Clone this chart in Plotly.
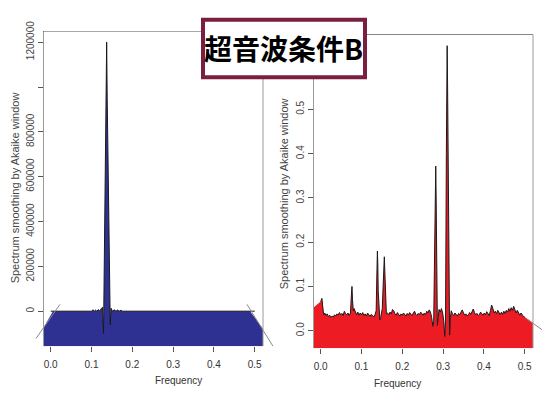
import plotly.graph_objects as go

W, H = 547, 395

# ---------------- data ----------------
# Condition B, left: smoothed spectrum (power), frequency 0 .. 0.5
left_freq = [0.000, 0.100, 0.104, 0.107, 0.110, 0.113, 0.117, 0.120, 0.124, 0.127,
             0.1295, 0.1315, 0.1335, 0.1355, 0.1372, 0.1385, 0.1405, 0.1425, 0.1445,
             0.146, 0.148, 0.151, 0.156, 0.160, 0.164, 0.168, 0.172, 0.176, 0.500]
left_power = [0, 0, 6000, 0, 5000, 0, 7000, 0, 12000, 17000,
              -100000, 250000, 650000, 1000000, 1200000, 950000, 600000, 250000, 50000,
              -61000, 13000, 0, 6000, 0, 5000, 0, 4000, 0, 0]
# tapered ends of the filled area
left_taper_freq = [-0.0189, 0.0056, 0.4885, 0.5204]
left_taper_power = [-78000, 0, 0, -78000]
# thin guide strokes along the tapers
left_guide_a = ([-0.036, 0.0228], [-121700, 30400])
left_guide_b = ([0.4811, 0.5449], [30400, -156500])

# Condition B, right: smoothed spectrum, frequency 0 .. 0.5
right_freq = [0.000, 0.003, 0.006, 0.008, 0.010, 0.013, 0.016, 0.019, 0.022, 0.025,
              0.028, 0.031, 0.034, 0.037, 0.040, 0.043, 0.046, 0.049, 0.052, 0.055,
              0.058, 0.061, 0.064, 0.067, 0.070, 0.073, 0.0755, 0.0767, 0.078, 0.080,
              0.082, 0.085, 0.088, 0.091, 0.094, 0.097, 0.100, 0.103, 0.106, 0.109,
              0.112, 0.115, 0.118, 0.121, 0.124, 0.127, 0.130, 0.133, 0.136, 0.138,
              0.139, 0.140, 0.141, 0.143, 0.145, 0.147, 0.149, 0.151, 0.153, 0.155,
              0.156, 0.157, 0.159, 0.161, 0.164, 0.167, 0.170, 0.173, 0.176, 0.179,
              0.182, 0.185, 0.188, 0.191, 0.194, 0.197, 0.200, 0.203, 0.206, 0.209,
              0.212, 0.215, 0.218, 0.221, 0.224, 0.227, 0.230, 0.233, 0.236, 0.239,
              0.242, 0.245, 0.248, 0.251, 0.254, 0.257, 0.260, 0.263, 0.266, 0.269,
              0.272, 0.275, 0.277, 0.279, 0.2805, 0.282, 0.283, 0.284, 0.286, 0.288,
              0.290, 0.293, 0.296, 0.299, 0.302, 0.304, 0.306, 0.308, 0.3095, 0.310,
              0.311, 0.3125, 0.314, 0.316, 0.318, 0.320, 0.323, 0.326, 0.329, 0.332,
              0.335, 0.338, 0.341, 0.344, 0.347, 0.350, 0.353, 0.356, 0.359, 0.362,
              0.365, 0.368, 0.371, 0.374, 0.377, 0.380, 0.383, 0.386, 0.389, 0.392,
              0.395, 0.398, 0.401, 0.404, 0.407, 0.410, 0.413, 0.416, 0.419, 0.422,
              0.425, 0.428, 0.431, 0.434, 0.437, 0.440, 0.443, 0.446, 0.449, 0.452,
              0.455, 0.458, 0.461, 0.464, 0.467, 0.470, 0.473, 0.476, 0.479, 0.482,
              0.485, 0.488, 0.491, 0.494, 0.497, 0.500]
right_power = [0.066, 0.073, 0.045, 0.036, 0.040, 0.034, 0.038, 0.032, 0.035, 0.030,
               0.033, 0.031, 0.036, 0.033, 0.038, 0.035, 0.041, 0.036, 0.039, 0.034,
               0.044, 0.038, 0.036, 0.040, 0.034, 0.040, 0.085, 0.100, 0.070, 0.045,
               0.050, 0.040, 0.036, 0.042, 0.035, 0.040, 0.036, 0.041, 0.034, 0.038,
               0.033, 0.040, 0.036, 0.032, 0.037, 0.034, 0.031, 0.036, 0.045, 0.140,
               0.180, 0.150, 0.090, 0.040, 0.024, 0.030, 0.040, 0.050, 0.100, 0.160,
               0.167, 0.140, 0.060, 0.038, 0.040, 0.036, 0.042, 0.038, 0.048, 0.045,
               0.038, 0.035, 0.041, 0.036, 0.033, 0.038, 0.035, 0.040, 0.036, 0.033,
               0.039, 0.035, 0.041, 0.037, 0.034, 0.040, 0.044, 0.037, 0.034, 0.039,
               0.036, 0.042, 0.038, 0.035, 0.040, 0.036, 0.044, 0.040, 0.047, 0.042,
               0.030, 0.010, 0.020, 0.150, 0.330, 0.372, 0.300, 0.100, 0.012, 0.030,
               0.048, 0.042, 0.050, 0.040, 0.020, -0.013, 0.020, 0.400, 0.620, 0.644,
               0.560, 0.300, 0.040, -0.010, 0.030, 0.045, 0.038, 0.034, 0.040, 0.036,
               0.033, 0.039, 0.036, 0.042, 0.047, 0.040, 0.035, 0.038, 0.033, 0.036,
               0.041, 0.037, 0.043, 0.049, 0.041, 0.036, 0.039, 0.034, 0.037, 0.042,
               0.038, 0.035, 0.040, 0.036, 0.043, 0.038, 0.034, 0.045, 0.058, 0.050,
               0.040, 0.044, 0.038, 0.046, 0.040, 0.036, 0.042, 0.037, 0.044, 0.039,
               0.046, 0.042, 0.050, 0.044, 0.052, 0.046, 0.055, 0.047, 0.040, 0.046,
               0.038, 0.035, 0.040, 0.036, 0.032, 0.031]
right_taper_freq = [-0.0189, 0.5204]
right_taper_power = [0.051, 0.018]
right_guide = ([0.5056, 0.5424], [0.0264, 0.0022])

freq_ticks = [0.0, 0.1, 0.2, 0.3, 0.4, 0.5]
freq_ticktext = ["0.0", "0.1", "0.2", "0.3", "0.4", "0.5"]
left_ticks = [0, 200000, 400000, 600000, 800000, 1000000, 1200000]
left_ticktext = ["0", "200000", "400000", "600000", "800000", "", "1200000"]
right_ticks = [0.0, 0.1, 0.2, 0.3, 0.4, 0.5, 0.6]
right_ticktext = ["0.0", "0.1", "0.2", "0.3", "0.4", "0.5", "0.6"]

title_text = "超音波条件B"
ytitle = "Spectrum smoothing by Akaike window"
xtitle = "Frequency"

# ---------------- layout geometry (pixels) ----------------
def px(x):
    return x / W


def py(y):
    return 1 - y / H


L_XRANGE = [-0.0507, 0.5620]
L_YRANGE = [-156522, 1247826]
R_XRANGE = [-0.0507, 0.5547]
R_YRANGE = [-0.0396, 0.6696]
FRAME_L = -0.0189
FRAME_R = 0.5204

BLUE = "#2E3192"
RED = "#ED1C24"
LINE = "#1a1a1a"
GUIDE = "#8a8a8a"

fig = go.Figure()


def polygon(freqs, powers, ybot):
    xs = list(freqs) + [freqs[-1], freqs[0]]
    ys = list(powers) + [ybot, ybot]
    return xs, ys


# left panel fill: taper start, interior spectrum, taper end
lf = [left_taper_freq[0], left_taper_freq[1]]
lp = [left_taper_power[0], left_taper_power[1]]
for f, p in zip(left_freq, left_power):
    if left_taper_freq[1] < f < left_taper_freq[2]:
        lf.append(f)
        lp.append(p)
lf += [left_taper_freq[2], left_taper_freq[3]]
lp += [left_taper_power[2], left_taper_power[3]]
xs, ys = polygon(lf, lp, L_YRANGE[0])
fig.add_trace(go.Scatter(x=xs, y=ys, fill="toself", fillcolor=BLUE, mode="lines",
                         line=dict(width=0), xaxis="x", yaxis="y", hoverinfo="skip"))
fig.add_trace(go.Scatter(x=left_freq, y=left_power, mode="lines",
                         line=dict(color=LINE, width=1), xaxis="x", yaxis="y"))
for gx, gy in (left_guide_a, left_guide_b):
    fig.add_trace(go.Scatter(x=gx, y=gy, mode="lines", line=dict(color=GUIDE, width=1),
                             xaxis="x", yaxis="y"))

# right panel fill
rf = [right_taper_freq[0]] + right_freq + [right_taper_freq[1]]
rp = [right_taper_power[0]] + right_power + [right_taper_power[1]]
xs, ys = polygon(rf, rp, R_YRANGE[0])
fig.add_trace(go.Scatter(x=xs, y=ys, fill="toself", fillcolor=RED, mode="lines",
                         line=dict(width=0), xaxis="x2", yaxis="y2", hoverinfo="skip"))
fig.add_trace(go.Scatter(x=right_freq, y=right_power, mode="lines",
                         line=dict(color=LINE, width=1), xaxis="x2", yaxis="y2"))
fig.add_trace(go.Scatter(x=right_guide[0], y=right_guide[1], mode="lines",
                         line=dict(color=GUIDE, width=1), xaxis="x2", yaxis="y2"))

tick_font = dict(family="Liberation Sans Narrow, Liberation Sans, Arial", size=10, color="#333")
ytick_font = dict(family="Liberation Sans, Arial", size=10, color="#444")

xcommon = dict(tickvals=freq_ticks, ticktext=freq_ticktext, ticks="outside", ticklen=5,
               tickcolor="#555", tickwidth=1, showline=False, showgrid=False,
               zeroline=False, tickfont=tick_font, ticklabelstandoff=4, fixedrange=True)
ycommon = dict(ticks="outside", ticklen=5, tickcolor="#555", tickwidth=1, showline=True,
               linecolor="#9a9a9a", linewidth=1, showgrid=False, zeroline=False,
               tickangle=-90, tickfont=ytick_font, anchor="free", fixedrange=True)

fig.update_layout(
    width=W, height=H, margin=dict(l=0, r=0, t=0, b=0),
    paper_bgcolor="white", plot_bgcolor="rgba(0,0,0,0)", showlegend=False,
    xaxis=dict(domain=[px(30), px(280)], range=L_XRANGE, anchor="y", **xcommon),
    yaxis=dict(domain=[py(345), py(22)], range=L_YRANGE, position=px(43),
               tickvals=left_ticks, ticktext=left_ticktext, **ycommon),
    xaxis2=dict(domain=[px(300), 1.0], range=R_XRANGE, anchor="y2", **xcommon),
    yaxis2=dict(domain=[py(347), py(25)], range=R_YRANGE, position=px(313),
                tickvals=right_ticks, ticktext=right_ticktext, **ycommon),
)

# frame lines (top and right) of each panel
shapes = []
for xr, yr, rng in (("x", "y", L_YRANGE), ("x2", "y2", R_YRANGE)):
    shapes.append(dict(type="line", xref=xr, yref=yr, x0=FRAME_L, x1=FRAME_R,
                       y0=rng[1], y1=rng[1], line=dict(color="#444", width=1)))
    shapes.append(dict(type="line", xref=xr, yref=yr, x0=FRAME_R, x1=FRAME_R,
                       y0=rng[0], y1=rng[1], line=dict(color="#9a9a9a", width=1)))

# heading box
shapes.append(dict(type="rect", xref="paper", yref="paper", x0=px(203), x1=px(365),
                   y0=py(69), y1=py(10), fillcolor="white",
                   line=dict(color="#7A1F3F", width=4), layer="above"))
fig.update_layout(shapes=shapes)

axis_title_font = dict(family="Liberation Sans, Arial", size=11, color="#444")
ann = [
    dict(text=title_text, x=px(284), y=py(39.5), xref="paper", yref="paper",
         showarrow=False, xanchor="center", yanchor="middle",
         font=dict(family="Noto Sans CJK JP", size=28, color="black", weight="bold")),
    dict(text=ytitle, x=px(15), y=py(183), xref="paper", yref="paper", textangle=-90,
         xanchor="center", yanchor="middle", showarrow=False, font=axis_title_font),
    dict(text=ytitle, x=px(284), y=py(188), xref="paper", yref="paper", textangle=-90,
         xanchor="center", yanchor="middle", showarrow=False, font=axis_title_font),
    dict(text=xtitle, x=px(153), y=py(388), xref="paper", yref="paper",
         showarrow=False, font=dict(family="Liberation Sans Narrow, Liberation Sans, Arial",
                                    size=10, color="#333")),
    dict(text=xtitle, x=px(423), y=py(391), xref="paper", yref="paper",
         showarrow=False, font=dict(family="Liberation Sans Narrow, Liberation Sans, Arial",
                                    size=10, color="#333")),
]
fig.update_layout(annotations=ann)

fig.write_html("out.html")
